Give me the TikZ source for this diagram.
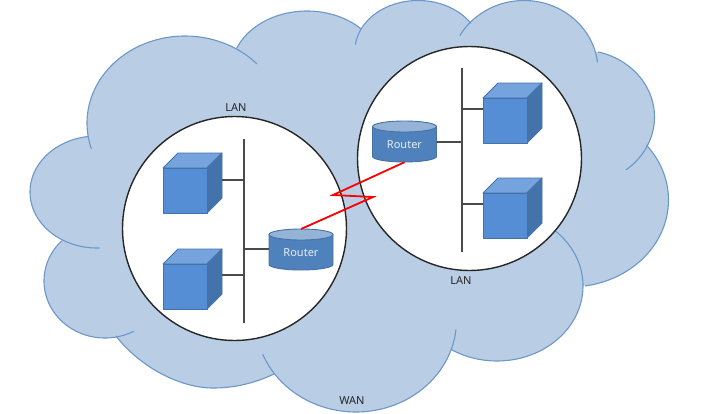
\documentclass[tikz,border=0pt]{standalone}
\usepackage{fontspec}
\setmainfont{Noto Sans}
\definecolor{cloudfill}{HTML}{B9CDE5}
\definecolor{cloudline}{HTML}{6C97CB}
\definecolor{cubefront}{HTML}{558ED5}
\definecolor{cubetop}{HTML}{74A3DE}
\definecolor{cubeside}{HTML}{4472AB}
\definecolor{cubeline}{HTML}{4472A8}
\definecolor{routerbody}{HTML}{4F81BD}
\definecolor{routertop}{HTML}{95B3D7}
\definecolor{wire}{HTML}{4A4A4A}
\definecolor{labeltext}{HTML}{262626}
\definecolor{routertext}{HTML}{E6EEF8}
\tikzset{
  lobeline/.style={draw=cloudline,line width=1.1pt,line cap=round,line join=round},
  lan/.style={circle,draw=black!85,fill=white,line width=1.4pt,minimum size=224pt,inner sep=0pt},
  bus/.style={draw=wire,line width=1.3pt},
  cubeface/.style={draw=cubeline,line width=0.9pt,line join=round},
  label/.style={text=labeltext,font=\fontsize{11pt}{13pt}\selectfont,inner sep=0pt},
  routerbox/.style={minimum width=64pt,minimum height=34pt,inner sep=0pt,text=routertext,
    font=\fontsize{11pt}{13pt}\selectfont},
  routerskin/.style={draw=cubeline,line width=0.9pt,line join=round},
  link/.style={draw=red,line width=1.8pt,line join=miter},
}
\newcommand{\netcube}[3]{% name, x, y of front top-left
  \fill[cubeface,fill=cubetop] (#2,#3) -- ++(15,-15) -- ++(44,0) -- ++(-15,15) -- cycle;
  \fill[cubeface,fill=cubeside] (#2+44,#3) -- ++(15,-15) -- ++(0,45) -- ++(-15,15) -- cycle;
  \node[cubeface,fill=cubefront,anchor=north west,minimum width=44pt,minimum height=45pt,inner sep=0pt] (#1) at (#2,#3) {};
}
\newcommand{\netrouter}[3]{% name, centre x, top y
  \fill[routerskin,fill=routerbody] (#2-32,#3+5.5) -- (#2-32,#3+35.5)
    .. controls (#2-32,#3+38.5) and (#2-17.6,#3+41) .. (#2,#3+41)
    .. controls (#2+17.6,#3+41) and (#2+32,#3+38.5) .. (#2+32,#3+35.5)
    -- (#2+32,#3+5.5) -- cycle;
  \fill[routerskin,fill=routertop] (#2,#3+5.5) ellipse [x radius=32pt,y radius=5.5pt];
  \coordinate (#1-top) at (#2,#3);
  \node[routerbox] (#1) at (#2,#3+24) {Router};
}
\begin{document}
\begin{tikzpicture}[x=1pt,y=-1pt]
\useasboundingbox (0,0) rectangle (707,413);
\def\lobes{185/123/98/87/163/317, 307/71/76/60/203/315, 418/50.5/63/50/187/327,
  524/70.5/74/70/210/353, 580.5/117/74/67/-76/52, 570/200/98.5/87/-39/81,
  497/286/86/75/-47/122, 356/320/100.5/92/6/158, 105/281/61/57/62/225, 97/192/67/56/88/262}
% cloud fill
\fill[cloudfill] (88,137)--(237,47)--(361,30)--(471,22)--(597,52)--(647,145)--(583,286)--(452,349)--(274,374)--(116,336)--(62,241)--cycle;
\foreach \cx/\cy/\rx/\ry/\aa/\bb in \lobes {
  \fill[cloudfill] plot[domain=\aa:\bb,samples=80] ({\cx+\rx*cos(\x)},{\cy+\ry*sin(\x)}) -- (350,200) -- cycle;
}
\fill[cloudfill] (274,374) .. controls (255,383) and (235,388) .. (213,388)
  .. controls (180,388) and (140,367) .. (116,336) -- (350,200) -- cycle;
% cloud outline
\foreach \cx/\cy/\rx/\ry/\aa/\bb in \lobes {
  \draw[lobeline] plot[domain=\aa:\bb,samples=80] ({\cx+\rx*cos(\x)},{\cy+\ry*sin(\x)});
}
\draw[lobeline] (274,374) .. controls (255,383) and (235,388) .. (213,388)
  .. controls (180,388) and (140,367) .. (116,336);
% LAN circles
\node[lan] (lanL) at (234.5,228.5) {};
\node[lan] (lanR) at (469.5,158.5) {};
% buses
\coordinate (busLt) at (244,139); \coordinate (busLb) at (244,323);
\coordinate (busRt) at (462,68);  \coordinate (busRb) at (462,252);
\draw[bus] (busLt) -- (busLb);
\draw[bus] (busRt) -- (busRb);
% cubes
\netcube{cubeLa}{163}{168}
\netcube{cubeLb}{163}{264}
\netcube{cubeRa}{483}{98}
\netcube{cubeRb}{483}{193}
\coordinate (tapLa) at (244,180); \coordinate (tapLb) at (244,275);
\coordinate (tapLr) at (244,249);
\coordinate (tapRa) at (462,109); \coordinate (tapRb) at (462,204);
\coordinate (tapRr) at (462,142);
\draw[bus] (tapLa) -- (222,180);
\draw[bus] (tapLb) -- (222,275);
% routers
\netrouter{routerL}{301}{229}
\netrouter{routerR}{404.5}{121}
\draw[bus] (tapLr) -- (routerL.west |- tapLr);
\draw[bus] (tapRr) -- (routerR.east |- tapRr);
\draw[bus] (tapRa) -- (cubeRa.west |- tapRa);
\draw[bus] (tapRb) -- (cubeRb.west |- tapRb);
% WAN link
\coordinate (kinkA) at (333,195);
\coordinate (kinkB) at (373,197);
\draw[link] (routerR.south) -- (kinkA) -- (kinkB) -- (routerL-top);
% labels
\node[label] (lanLlabel) at (236,108) {LAN};
\node[label] (lanRlabel) at (461,281) {LAN};
\node[label] (wanlabel) at (352,401) {WAN};
\end{tikzpicture}
\end{document}
